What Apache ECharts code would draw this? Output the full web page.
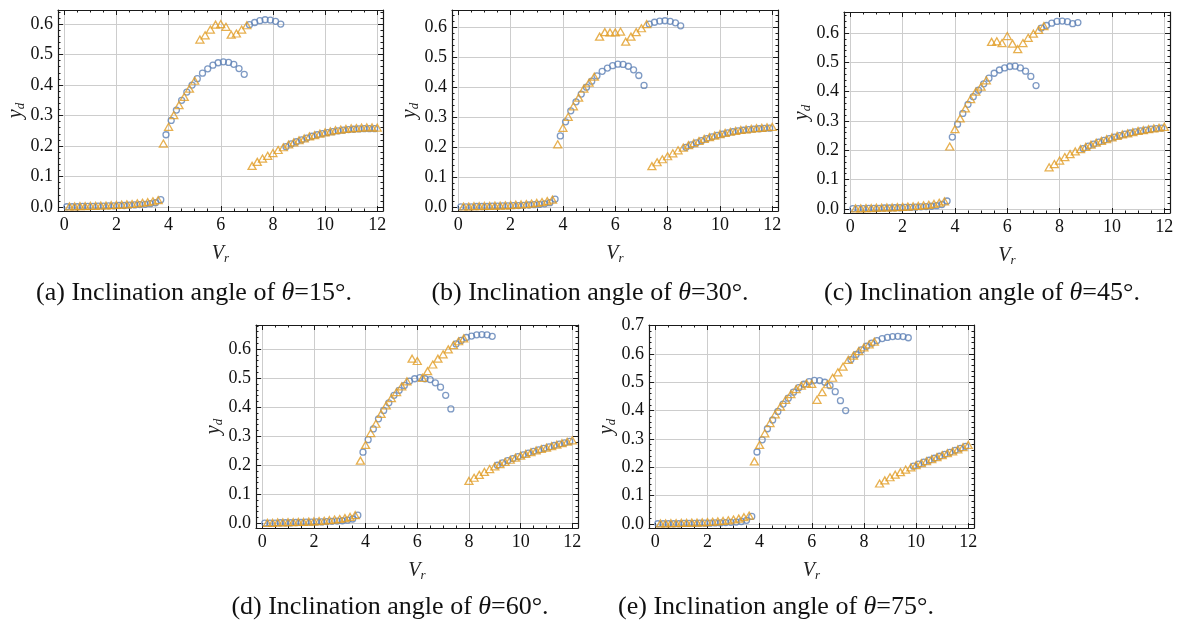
<!DOCTYPE html>
<html>
<head>
<meta charset="utf-8">
<script src="https://cdn.jsdelivr.net/npm/echarts@6/dist/echarts.min.js"></script>
<style>
  html, body { margin: 0; background: #fff; }
  #chart { width: 1180px; height: 628px; }
</style>
</head>
<body>
<div id="chart"></div>
<script>
// sampling grids: circles on odd tenths, triangles on even tenths
const xCircle = [0.1, 0.3, 0.5, 0.7, 0.9, 1.1, 1.3, 1.5, 1.7, 1.9, 2.1, 2.3, 2.5, 2.7, 2.9,
  3.1, 3.3, 3.5, 3.7, 3.9, 4.1, 4.3, 4.5, 4.7, 4.9, 5.1, 5.3, 5.5, 5.7, 5.9,
  6.1, 6.3, 6.5, 6.7, 6.9, 7.1, 7.3, 7.5, 7.7, 7.9, 8.1, 8.3, 8.5, 8.7, 8.9,
  9.1, 9.3, 9.5, 9.7, 9.9, 10.1, 10.3, 10.5, 10.7, 10.9, 11.1, 11.3, 11.5, 11.7, 11.9];
const xTriangle = [0.2, 0.4, 0.6, 0.8, 1.0, 1.2, 1.4, 1.6, 1.8, 2.0, 2.2, 2.4, 2.6, 2.8, 3.0,
  3.2, 3.4, 3.6, 3.8, 4.0, 4.2, 4.4, 4.6, 4.8, 5.0, 5.2, 5.4, 5.6, 5.8, 6.0,
  6.2, 6.4, 6.6, 6.8, 7.0, 7.2, 7.4, 7.6, 7.8, 8.0, 8.2, 8.4, 8.6, 8.8, 9.0,
  9.2, 9.4, 9.6, 9.8, 10.0, 10.2, 10.4, 10.6, 10.8, 11.0, 11.2, 11.4, 11.6, 11.8, 12.0];

// (a) theta = 15
const circleA = [0.001, 0.001, 0.001, 0.002, 0.002, 0.002, 0.003, 0.003, 0.004, 0.004, 0.005, 0.005, 0.006, 0.007, 0.008, 0.009, 0.011, 0.014, 0.024,
  0.237, 0.284, 0.318, 0.350, 0.377, 0.400, 0.421, 0.439, 0.453, 0.465, 0.473, 0.476, 0.474, 0.468, 0.454, 0.435,
  0.598, 0.605, 0.611, 0.614, 0.613, 0.609, 0.600,
  0.198, 0.207, 0.214, 0.220, 0.226, 0.232, 0.237, 0.241, 0.244, 0.247, 0.250, 0.252, 0.254, 0.255, 0.256, 0.257, 0.257, 0.257];
const triangleA = [0.002, 0.002, 0.003, 0.003, 0.004, 0.004, 0.005, 0.005, 0.006, 0.007, 0.008, 0.009, 0.010, 0.012, 0.014, 0.016, 0.019, 0.023,
  0.208, 0.263, 0.301, 0.334, 0.361, 0.388, 0.414,
  0.549, 0.563, 0.582, 0.598, 0.600, 0.591, 0.565, 0.569, 0.582, 0.596,
  0.135, 0.148, 0.159, 0.168, 0.177, 0.187, 0.196, 0.205, 0.212, 0.219, 0.225, 0.232, 0.236, 0.241, 0.245, 0.248, 0.252, 0.254, 0.256, 0.258, 0.259, 0.260, 0.261, 0.261, 0.260];

// (b) theta = 30
const circleB = [0.001, 0.001, 0.001, 0.002, 0.002, 0.002, 0.003, 0.003, 0.004, 0.004, 0.005, 0.005, 0.006, 0.007, 0.008, 0.009, 0.011, 0.015, 0.027,
  0.238, 0.285, 0.322, 0.352, 0.378, 0.401, 0.421, 0.439, 0.454, 0.465, 0.473, 0.478, 0.477, 0.471, 0.459, 0.440, 0.407,
  0.612, 0.618, 0.622, 0.623, 0.621, 0.616, 0.606,
  0.200, 0.208, 0.215, 0.222, 0.229, 0.235, 0.240, 0.244, 0.248, 0.252, 0.255, 0.257, 0.259, 0.261, 0.262, 0.263, 0.264];
const triangleB = [0.002, 0.002, 0.003, 0.003, 0.004, 0.004, 0.005, 0.005, 0.006, 0.007, 0.008, 0.009, 0.010, 0.012, 0.014, 0.017, 0.020, 0.025,
  0.210, 0.265, 0.302, 0.337, 0.366, 0.396, 0.416, 0.436,
  0.570, 0.585, 0.584, 0.584, 0.587, 0.553, 0.570, 0.585, 0.598, 0.612,
  0.137, 0.150, 0.160, 0.170, 0.180, 0.190, 0.199, 0.207, 0.214, 0.221, 0.228, 0.234, 0.239, 0.244, 0.248, 0.252, 0.255, 0.258, 0.260, 0.262, 0.264, 0.265, 0.267, 0.268];

// (c) theta = 45
const circleC = [0.001, 0.001, 0.001, 0.002, 0.002, 0.002, 0.003, 0.003, 0.004, 0.004, 0.005, 0.005, 0.006, 0.007, 0.008, 0.009, 0.011, 0.015, 0.027,
  0.245, 0.289, 0.326, 0.357, 0.383, 0.405, 0.427, 0.446, 0.463, 0.474, 0.481, 0.486, 0.487, 0.481, 0.470, 0.452, 0.421,
  0.617, 0.626, 0.634, 0.640, 0.641, 0.639, 0.632, 0.636,
  0.206, 0.214, 0.221, 0.228, 0.234, 0.240, 0.245, 0.250, 0.255, 0.259, 0.263, 0.266, 0.269, 0.272, 0.274, 0.276];
const triangleC = [0.002, 0.002, 0.003, 0.003, 0.004, 0.004, 0.005, 0.005, 0.006, 0.007, 0.008, 0.009, 0.010, 0.012, 0.014, 0.017, 0.021, 0.026,
  0.213, 0.272, 0.309, 0.343, 0.375, 0.400, 0.417, 0.439,
  0.570, 0.572, 0.566, 0.590, 0.564, 0.545, 0.566, 0.584, 0.598, 0.611, 0.624,
  0.142, 0.153, 0.165, 0.177, 0.187, 0.196, 0.204, 0.212, 0.219, 0.226, 0.232, 0.238, 0.244, 0.249, 0.254, 0.258, 0.262, 0.266, 0.269, 0.272, 0.275, 0.277, 0.280];

// (d) theta = 60
const circleD = [0.001, 0.001, 0.001, 0.002, 0.002, 0.002, 0.003, 0.003, 0.004, 0.004, 0.005, 0.005, 0.006, 0.007, 0.008, 0.009, 0.011, 0.015, 0.028,
  0.245, 0.288, 0.325, 0.360, 0.389, 0.415, 0.441, 0.458, 0.475, 0.490, 0.498, 0.502, 0.498, 0.495, 0.484, 0.469, 0.441, 0.394,
  0.618, 0.630, 0.640, 0.645, 0.649, 0.650, 0.649, 0.644,
  0.200, 0.208, 0.216, 0.223, 0.230, 0.236, 0.242, 0.248, 0.253, 0.258, 0.263, 0.268, 0.273, 0.277, 0.282];
const triangleD = [0.002, 0.002, 0.003, 0.003, 0.004, 0.004, 0.005, 0.005, 0.006, 0.007, 0.008, 0.009, 0.011, 0.013, 0.015, 0.018, 0.022, 0.028,
  0.216, 0.270, 0.311, 0.343, 0.377, 0.406, 0.431, 0.452, 0.472, 0.489,
  0.567, 0.559, 0.501, 0.524, 0.547, 0.567, 0.582, 0.599, 0.614, 0.627, 0.637,
  0.146, 0.157, 0.167, 0.177, 0.187, 0.196, 0.204, 0.212, 0.219, 0.226, 0.233, 0.239, 0.245, 0.251, 0.256, 0.261, 0.266, 0.271, 0.276, 0.281, 0.286];

// (e) theta = 75
const circleE = [0.001, 0.001, 0.001, 0.001, 0.001, 0.002, 0.002, 0.002, 0.003, 0.003, 0.003, 0.004, 0.004, 0.005, 0.006, 0.007, 0.009, 0.013, 0.027,
  0.254, 0.297, 0.336, 0.367, 0.397, 0.423, 0.444, 0.465, 0.481, 0.493, 0.502, 0.507, 0.506, 0.500, 0.488, 0.467, 0.435, 0.400,
  0.580, 0.598, 0.614, 0.627, 0.638, 0.647, 0.654, 0.658, 0.661, 0.662, 0.661, 0.657,
  0.204, 0.211, 0.218, 0.225, 0.232, 0.239, 0.246, 0.253, 0.260, 0.267, 0.274];
const triangleE = [0.002, 0.002, 0.003, 0.003, 0.004, 0.004, 0.005, 0.005, 0.006, 0.007, 0.008, 0.009, 0.011, 0.013, 0.016, 0.019, 0.024, 0.030,
  0.221, 0.279, 0.320, 0.356, 0.387, 0.414, 0.438, 0.458, 0.476, 0.488, 0.496, 0.494,
  0.438, 0.465, 0.493, 0.516, 0.535, 0.555, 0.579, 0.594, 0.610, 0.623, 0.634, 0.643,
  0.143, 0.154, 0.165, 0.174, 0.183, 0.192, 0.200, 0.208, 0.215, 0.222, 0.229, 0.236, 0.243, 0.250, 0.256, 0.263, 0.271, 0.279];

const captions = [
  '(a) Inclination angle of {i|θ}=15°.',
  '(b) Inclination angle of {i|θ}=30°.',
  '(c) Inclination angle of {i|θ}=45°.',
  '(d) Inclination angle of {i|θ}=60°.',
  '(e) Inclination angle of {i|θ}=75°.'
];

const SERIF = '"Liberation Serif", "Times New Roman", serif';
const BLUE = '#5E81B5';
const ORANGE = '#E19C24';
const FRAME = '#1a1a1a';

// layout of each panel (plot frame in px) and its caption anchor
const panels = [
  { c: circleA, t: triangleA, yMin: -0.013, yMax: 0.646, box: [58, 10, 325, 201], cap: [194, 293] },
  { c: circleB, t: triangleB, yMin: -0.013, yMax: 0.659, box: [452, 10, 326, 201], cap: [590, 293] },
  { c: circleC, t: triangleC, yMin: -0.014, yMax: 0.672, box: [844, 12, 326, 201], cap: [982, 293] },
  { c: circleD, t: triangleD, yMin: -0.016, yMax: 0.683, box: [256, 325, 322, 203], cap: [390, 607] },
  { c: circleE, t: triangleE, yMin: -0.014, yMax: 0.702, box: [649, 325, 325, 203], cap: [776, 607] }
];
const X_MIN = -0.24, X_MAX = 12.22;

function xLabel(v) {
  const r = Math.round(v);
  return Math.abs(v - r) < 1e-6 && r % 2 === 0 ? String(r) : '';
}
function yLabel(v) {
  const r = Math.round(v * 10);
  return Math.abs(v * 10 - r) < 1e-6 ? (r / 10).toFixed(1) : '';
}

const nameRich = {
  v: { fontFamily: SERIF, fontStyle: 'italic', fontSize: 20, lineHeight: 22, color: '#222' },
  s: { fontFamily: SERIF, fontStyle: 'italic', fontSize: 13, lineHeight: 10, verticalAlign: 'bottom', color: '#222' }
};

const grid = [], xAxis = [], yAxis = [], series = [], graphic = [];

panels.forEach((p, i) => {
  grid.push({ left: p.box[0], top: p.box[1], width: p.box[2], height: p.box[3], containLabel: false });

  const tick = { show: true, inside: true, length: 5, lineStyle: { color: FRAME, width: 1 } };
  const minorX = { show: true, splitNumber: 4, length: 2.5, lineStyle: { color: FRAME, width: 1 } };
  const minorY = { show: true, splitNumber: 5, length: 2.5, lineStyle: { color: FRAME, width: 1 } };
  const line = { show: true, onZero: false, lineStyle: { color: FRAME, width: 1.2 } };
  const grid_ = { show: true, lineStyle: { color: '#cdcdcd', width: 1 } };

  xAxis.push({
    gridIndex: i, type: 'value', position: 'bottom', min: X_MIN, max: X_MAX, splitNumber: 6,
    axisLine: line, axisTick: tick, minorTick: minorX, splitLine: grid_,
    axisLabel: { formatter: xLabel, fontFamily: SERIF, fontSize: 18, color: '#111', margin: 5 },
    name: '{v|V}{s|r}', nameLocation: 'middle', nameGap: 32,
    nameTextStyle: { rich: nameRich }
  });
  xAxis.push({
    gridIndex: i, type: 'value', position: 'top', min: X_MIN, max: X_MAX, splitNumber: 6,
    axisLine: line, axisTick: tick, minorTick: minorX,
    splitLine: { show: false }, axisLabel: { show: false }
  });
  yAxis.push({
    gridIndex: i, type: 'value', position: 'left', min: p.yMin, max: p.yMax, splitNumber: 6,
    axisLine: line, axisTick: tick, minorTick: minorY, splitLine: grid_,
    axisLabel: { formatter: yLabel, fontFamily: SERIF, fontSize: 18, color: '#111', margin: 5 },
    name: '{v|y}{s|d}', nameLocation: 'middle', nameRotate: 90, nameGap: 31,
    nameTextStyle: { rich: nameRich }
  });
  yAxis.push({
    gridIndex: i, type: 'value', position: 'right', min: p.yMin, max: p.yMax, splitNumber: 6,
    axisLine: line, axisTick: tick, minorTick: minorY,
    splitLine: { show: false }, axisLabel: { show: false }
  });

  series.push({
    type: 'scatter', xAxisIndex: 2 * i, yAxisIndex: 2 * i,
    data: xCircle.map((x, k) => [x, p.c[k]]),
    symbol: 'circle', symbolSize: 6,
    itemStyle: { color: 'rgba(255,255,255,0)', borderColor: BLUE, borderWidth: 1.3 },
    emphasis: { disabled: true }, silent: true
  });
  series.push({
    type: 'scatter', xAxisIndex: 2 * i, yAxisIndex: 2 * i,
    data: xTriangle.map((x, k) => [x, p.t[k]]),
    symbol: 'triangle', symbolSize: [8, 7],
    itemStyle: { color: 'rgba(255,255,255,0)', borderColor: ORANGE, borderWidth: 1.3 },
    emphasis: { disabled: true }, silent: true
  });

  graphic.push({
    type: 'text', x: p.cap[0], y: p.cap[1],
    style: {
      text: captions[i], fill: '#111', align: 'center', verticalAlign: 'middle',
      fontFamily: SERIF, fontSize: 26,
      rich: { i: { fontFamily: SERIF, fontStyle: 'italic', fontSize: 26, fill: '#111' } }
    }
  });
});

const chart = echarts.init(document.getElementById('chart'), null, { renderer: 'canvas' });
chart.setOption({
  backgroundColor: '#fff',
  animation: false,
  textStyle: { fontFamily: SERIF },
  grid, xAxis, yAxis, series, graphic
});
</script>
</body>
</html>
